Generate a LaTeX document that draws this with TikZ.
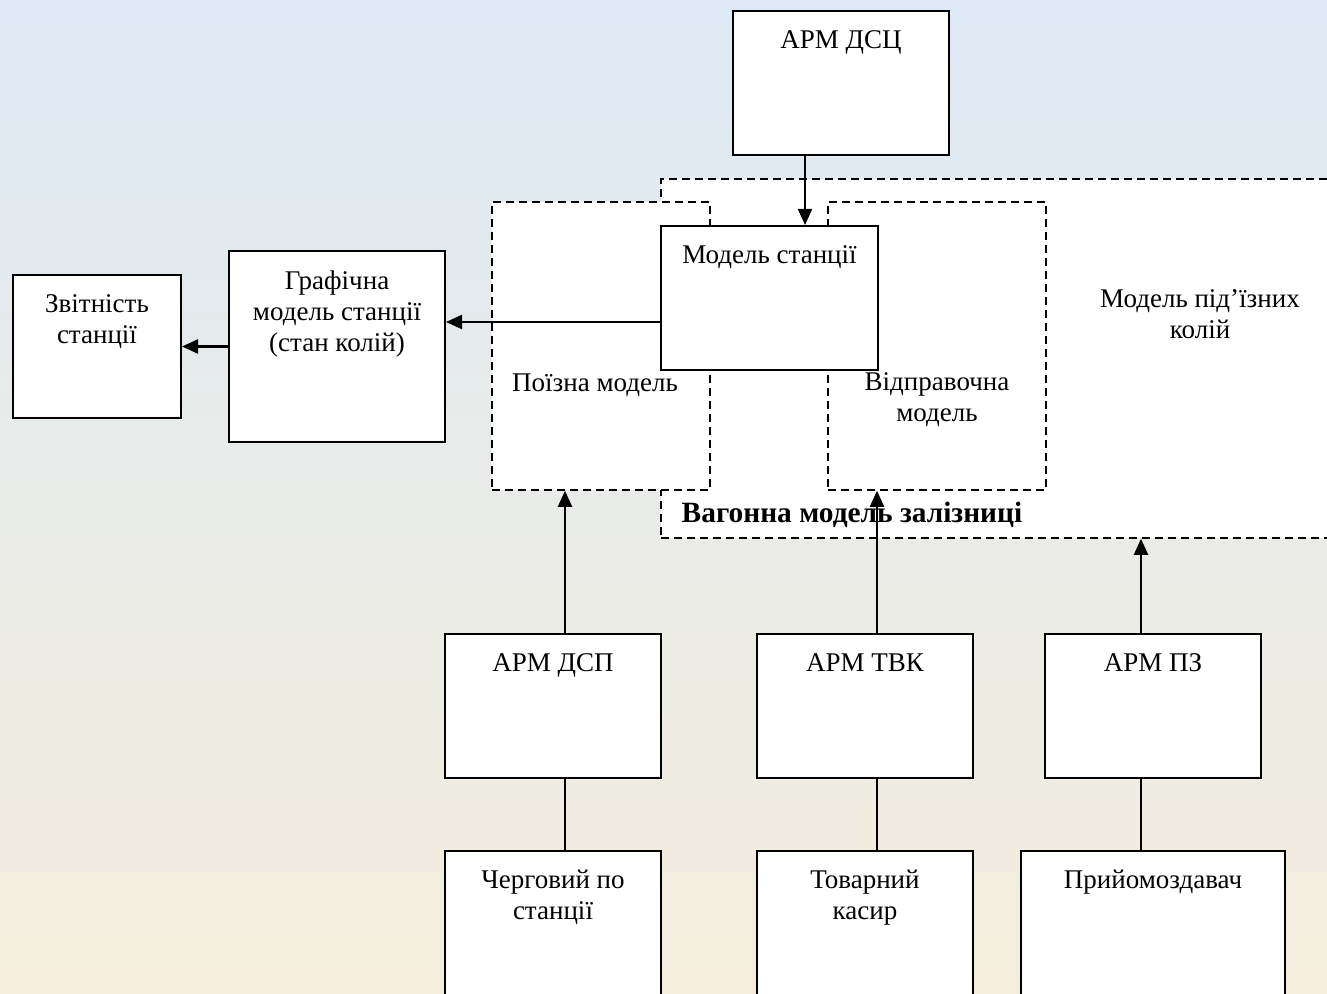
\documentclass[tikz,border=0pt]{standalone}
\usepackage{fontspec}
\setmainfont{Liberation Serif}
\usetikzlibrary{arrows.meta}
\definecolor{bgtop}{RGB}{221,233,244}
\definecolor{bgbot}{RGB}{244,237,220}

\begin{document}
\begin{tikzpicture}[x=0.5pt,y=-0.5pt,
  font=\fontsize{13.5}{15.5}\selectfont,
  box/.style={draw,fill=white,line width=1pt,inner sep=0pt},
  dbox/.style={draw,fill=white,line width=0.8pt,dash pattern=on 4pt off 2.5pt,inner sep=0pt},
  ttl/.style={anchor=north,align=center,inner sep=0pt,yshift=-10pt},
  arr/.style={line width=1.1pt,-{Triangle[length=8pt,width=7pt]}},
  ln/.style={line width=1pt}]
%фон
\useasboundingbox (0,0) rectangle (1327,994);
\clip (0,0) rectangle (1327,994);
\shade[top color=bgtop,bottom color=bgbot] (0,0) rectangle (1327,994);

%вагонна модель
\node[dbox,minimum width=340pt,minimum height=179.5pt] (vagon) at (1001,358.5) {};
\node[font=\fontsize{14.7}{17}\selectfont\bfseries] (vagonlbl) at (852,515) {Вагонна модель залізниці};
\node[align=center] (pidizn) at (1200,314) {Модель під’їзних\\колій};
%поїзна і відправочна
\node[dbox,minimum width=109pt,minimum height=144pt] (poizna) at (601,346) {};
\node (poiznalbl) at (595,385) {Поїзна модель};
\node[dbox,minimum width=109pt,minimum height=144pt] (vidpr) at (937,346) {};
\node[align=center] (vidprlbl) at (937,400) {Відправочна\\модель};
%модель станції
\node[box,minimum width=108.5pt,minimum height=72pt,
  label={[ttl]north:Модель станції}] (model) at (769.5,298) {};

%верх і ліворуч
\node[box,minimum width=108pt,minimum height=72pt,
  label={[ttl]north:АРМ ДСЦ}] (dsc) at (841,83) {};
\node[box,minimum width=108pt,minimum height=95.5pt,
  label={[ttl]north:{Графічна\\модель станції\\(стан колій)}}] (graf) at (337,346.5) {};
\node[box,minimum width=84pt,minimum height=71.5pt,
  label={[ttl]north:{Звітність\\станції}}] (zvit) at (97,346.5) {};

%АРМ
\node[box,minimum width=108pt,minimum height=72pt,
  label={[ttl]north:АРМ ДСП}] (dsp) at (553,706) {};
\node[box,minimum width=108pt,minimum height=72pt,
  label={[ttl]north:АРМ ТВК}] (tvk) at (865,706) {};
\node[box,minimum width=108pt,minimum height=72pt,
  label={[ttl]north:АРМ ПЗ}] (pz) at (1153,706) {};

%працівники
\node[box,minimum width=108pt,minimum height=72pt,
  label={[ttl]north:{Черговий по\\станції}}] (cherg) at (553,923) {};
\node[box,minimum width=108pt,minimum height=72pt,
  label={[ttl]north:{Товарний\\касир}}] (tovar) at (865,923) {};
\node[box,minimum width=132pt,minimum height=72pt,
  label={[ttl]north:Прийомоздавач}] (priyom) at (1153,923) {};

%зв'язки
\draw[arr] ([xshift=-18pt]dsc.south) -- ([xshift=-18pt]dsc.south |- model.north);
\draw[arr] ([yshift=-12pt]model.west) -- ([yshift=-12pt]model.west -| graf.east);
\draw[arr] (graf.west) -- (zvit.east);

\draw[arr] ([xshift=6pt]dsp.north) -- ([xshift=6pt]dsp.north |- poizna.south);
\draw[arr] ([xshift=6pt]tvk.north) -- ([xshift=6pt]tvk.north |- vidpr.south);
\draw[arr] ([xshift=-6pt]pz.north) -- ([xshift=-6pt]pz.north |- vagon.south);

\draw[ln] ([xshift=6pt]dsp.south) -- ([xshift=6pt]dsp.south |- cherg.north);
\draw[ln] ([xshift=6pt]tvk.south) -- ([xshift=6pt]tvk.south |- tovar.north);
\draw[ln] ([xshift=-6pt]pz.south) -- ([xshift=-6pt]pz.south |- priyom.north);
\end{tikzpicture}
\end{document}
